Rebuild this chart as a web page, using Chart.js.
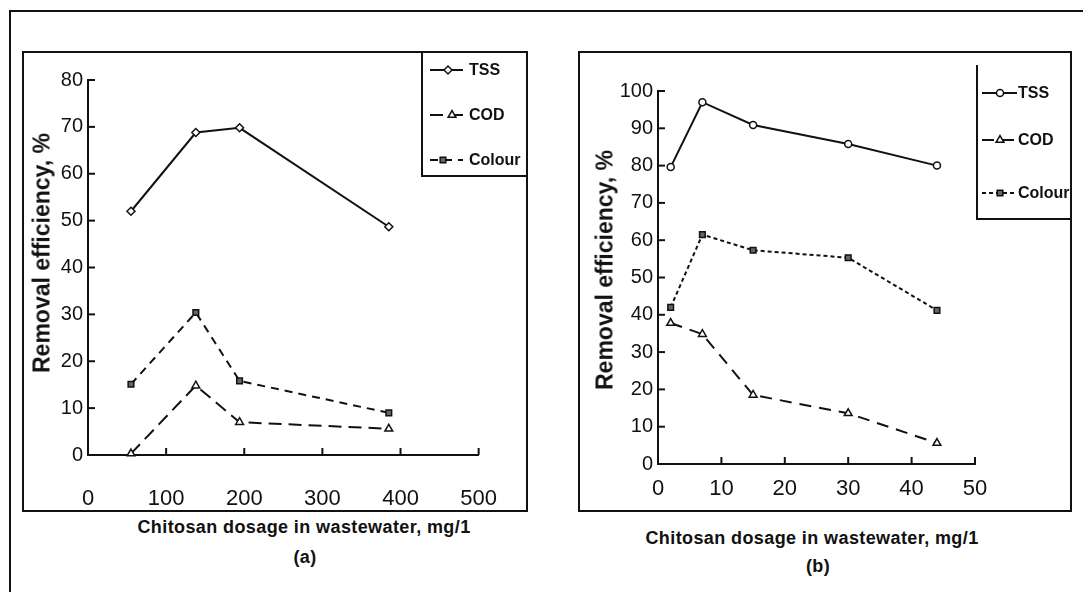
<!DOCTYPE html>
<html>
<head>
<meta charset="utf-8">
<script src="https://cdn.jsdelivr.net/npm/chart.js@4.4.1/dist/chart.umd.min.js"></script>
<style>
  html, body { margin: 0; padding: 0; background: #fff; }
  #page { position: relative; width: 1083px; height: 592px; overflow: hidden; font-family: "Liberation Sans", Arial, sans-serif; color: #111; }
  .rule { position: absolute; background: #111; }
  .panel { position: absolute; box-sizing: border-box; border: 2px solid #111; }
  .wrap { position: absolute; }
  .ytitle { position: absolute; font-weight: bold; font-size: 23px; white-space: nowrap; transform: translate(-50%, -50%) rotate(-90deg); }
  .xtitle { position: absolute; font-weight: bold; font-size: 18px; letter-spacing: 0.4px; white-space: nowrap; transform: translate(-50%, -50%); }
</style>
</head>
<body>
<div id="page">
  <div class="rule" style="left:9px; top:10px; width:1074px; height:2px;"></div>
  <div class="rule" style="left:9px; top:10px; width:2px; height:582px;"></div>

  <div class="panel" style="left:22px; top:51px; width:506px; height:461px;"></div>
  <div class="wrap" style="left:22px; top:51px; width:506px; height:461px;"><canvas id="chartA"></canvas></div>
  <div class="ytitle" style="left:42px; top:253px;">Removal efficiency, %</div>
  <div class="xtitle" style="left:304px; top:527px;">Chitosan dosage in wastewater, mg/1</div>
  <div class="xtitle" style="left:305px; top:557px;">(a)</div>

  <div class="panel" style="left:578px; top:51px; width:494px; height:461px;"></div>
  <div class="wrap" style="left:578px; top:51px; width:494px; height:461px;"><canvas id="chartB"></canvas></div>
  <div class="ytitle" style="left:605px; top:270px;">Removal efficiency, %</div>
  <div class="xtitle" style="left:812px; top:538px;">Chitosan dosage in wastewater, mg/1</div>
  <div class="xtitle" style="left:818px; top:566px;">(b)</div>
</div>

<script>
// (a) dosage 0-500 mg/l
const dosageA = [55, 138, 194, 385];
const tssA = [52, 68.8, 69.8, 48.7];
const codA = [0.3, 14.8, 7, 5.6];
const colourA = [15.1, 30.4, 15.8, 9];

// (b) dosage 0-50 mg/l
const dosageB = [2, 7, 15, 30, 44];
const tssB = [79.6, 97, 90.9, 85.8, 80];
const codB = [37.8, 34.8, 18.5, 13.6, 5.6];
const colourB = [42, 61.5, 57.3, 55.3, 41.2];

const seriesNames = ['TSS', 'COD', 'Colour'];

const ink = '#111';
const tickFontX = { family: '"Liberation Sans", Arial, sans-serif', size: 22 };
const tickFontY = { family: '"Liberation Sans", Arial, sans-serif', size: 20 };

const toPoints = (xs, ys) => xs.map((x, i) => ({ x: x, y: ys[i] }));

// inward tick marks + boxed legend drawn on the canvas
const frameDecor = {
    id: 'frameDecor',
    afterDraw(chart, args, opts) {
        const ctx = chart.ctx;
        const xs = chart.scales.x;
        const ys = chart.scales.y;
        ctx.save();
        ctx.strokeStyle = ink;
        ctx.lineWidth = 2;
        ctx.setLineDash([]);
        xs.ticks.forEach(t => {
            if (t.value === xs.min) return;
            const px = xs.getPixelForValue(t.value);
            ctx.beginPath();
            ctx.moveTo(px, ys.bottom);
            ctx.lineTo(px, ys.bottom - opts.tick);
            ctx.stroke();
        });
        ys.ticks.forEach(t => {
            if (t.value === ys.min) return;
            const py = ys.getPixelForValue(t.value);
            ctx.beginPath();
            ctx.moveTo(xs.left, py);
            ctx.lineTo(xs.left + opts.tick, py);
            ctx.stroke();
        });

        const lg = opts.legend;
        ctx.beginPath();
        ctx.moveTo(lg.left, lg.top);
        ctx.lineTo(lg.left, lg.bottom);
        ctx.lineTo(chart.width, lg.bottom);
        ctx.stroke();

        ctx.font = 'bold 16px "Liberation Sans", Arial, sans-serif';
        ctx.textBaseline = 'middle';
        ctx.fillStyle = ink;
        chart.data.datasets.forEach((ds, i) => {
            const y = lg.rows[i];
            ctx.save();
            ctx.lineWidth = ds.borderWidth;
            ctx.setLineDash(ds.borderDash || []);
            ctx.beginPath();
            ctx.moveTo(lg.x1, y);
            ctx.lineTo(lg.x2, y);
            ctx.stroke();
            ctx.setLineDash([]);
            ctx.fillStyle = ds.pointBackgroundColor;
            ctx.strokeStyle = ink;
            ctx.lineWidth = ds.pointBorderWidth;
            Chart.helpers.drawPoint(ctx, {
                pointStyle: ds.pointStyle, radius: ds.pointRadius, rotation: 0, borderWidth: ds.pointBorderWidth
            }, lg.mark[i], y);
            ctx.restore();
            ctx.fillStyle = ink;
            ctx.fillText(ds.label, lg.text, y + 1);
        });
        ctx.restore();
    }
};

function makeChart(id, xs, series, cfg) {
    const styles = cfg.styles;
    new Chart(document.getElementById(id).getContext('2d'), {
        type: 'line',
        data: {
            datasets: series.map((ys, i) => ({
                label: seriesNames[i],
                data: toPoints(xs, ys),
                borderColor: ink,
                borderWidth: 2,
                borderDash: styles[i].dash,
                pointStyle: styles[i].point,
                pointRadius: styles[i].r,
                pointBorderWidth: 1.5,
                pointBackgroundColor: styles[i].fill,
                pointBorderColor: ink,
                tension: 0,
                clip: false
            }))
        },
        options: {
            responsive: true,
            maintainAspectRatio: false,
            animation: false,
            events: [],
            layout: { padding: cfg.padding },
            plugins: {
                legend: { display: false },
                tooltip: { enabled: false },
                frameDecor: { tick: 7, legend: cfg.legend }
            },
            scales: {
                x: {
                    type: 'linear',
                    min: 0,
                    max: cfg.xMax,
                    afterFit: s => { s.height = cfg.xHeight; },
                    border: { display: true, color: ink, width: 2 },
                    grid: { display: false, drawTicks: false },
                    ticks: {
                        stepSize: cfg.xStep, color: ink, font: tickFontX,
                        padding: cfg.xPad, maxRotation: 0, autoSkip: false
                    }
                },
                y: {
                    min: 0,
                    max: cfg.yMax,
                    afterFit: s => { s.width = cfg.yWidth; },
                    border: { display: true, color: ink, width: 2 },
                    grid: { display: false, drawTicks: false },
                    ticks: {
                        stepSize: 10, color: ink, font: tickFontY,
                        padding: 5, autoSkip: false
                    }
                }
            }
        },
        plugins: [frameDecor]
    });
}

makeChart('chartA', dosageA, [tssA, codA, colourA], {
    xMax: 500, xStep: 100, yMax: 80,
    padding: { top: 29, right: 24, left: 0, bottom: 0 },
    yWidth: 66, xHeight: 57, xPad: 31,
    styles: [
        { dash: [], point: 'rectRot', r: 4, fill: '#fff' },
        { dash: [13, 7], point: 'triangle', r: 4.5, fill: '#fff' },
        { dash: [8, 6], point: 'rect', r: 4, fill: '#666' }
    ],
    legend: { left: 400, top: 0, bottom: 125, rows: [19, 64, 109], x1: 408, x2: 441, mark: [426, 430, 421], text: 447 }
});

makeChart('chartB', dosageB, [tssB, codB, colourB], {
    xMax: 50, xStep: 10, yMax: 100,
    padding: { top: 40, right: 97, left: 0, bottom: 0 },
    yWidth: 80, xHeight: 48, xPad: 12,
    styles: [
        { dash: [], point: 'circle', r: 3.5, fill: '#fff' },
        { dash: [12, 8], point: 'triangle', r: 4.5, fill: '#fff' },
        { dash: [4, 3], point: 'rect', r: 4, fill: '#666' }
    ],
    legend: { left: 399, top: 14, bottom: 168, rows: [42, 89, 142], x1: 404, x2: 439, mark: [422, 422, 422], text: 440 }
});
</script>
</body>
</html>
